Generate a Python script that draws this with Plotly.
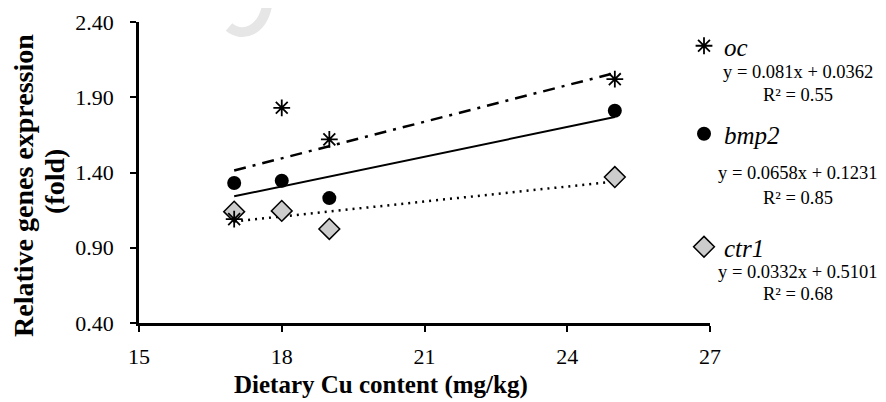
import plotly.graph_objects as go

x_cu = [17, 18, 19, 25]
oc = [1.09, 1.83, 1.62, 2.02]
bmp2 = [1.33, 1.345, 1.23, 1.81]
ctr1 = [1.14, 1.145, 1.025, 1.37]

# trendline coefficients (slope, intercept) as printed in the chart
oc_fit = (0.081, 0.0362)
bmp2_fit = (0.0658, 0.1231)
ctr1_fit = (0.0332, 0.5101)
fit_x = [17, 25]

eq_lines = [
    ("y = 0.081x + 0.0362", "R² = 0.55"),
    ("y = 0.0658x + 0.1231", "R² = 0.85"),
    ("y = 0.0332x + 0.5101", "R² = 0.68"),
]

y_ticks = [0.40, 0.90, 1.40, 1.90, 2.40]
x_ticks = [15, 18, 21, 24, 27]

FONT = "Liberation Serif"

# plot-area pixel geometry (screen coords, page has 8px body margin)
PX0, PX1, PY0, PY1 = 139, 710, 22, 323


def px(xp):
    return (xp - PX0) / (PX1 - PX0)


def py(yp):
    return 1 - (yp - PY0) / (PY1 - PY0)


fig = go.Figure()


def fit_line(fit):
    return [fit[0] * v + fit[1] for v in fit_x]


fig.add_trace(go.Scatter(x=fit_x, y=fit_line(oc_fit), mode="lines",
                         line=dict(color="black", width=2.5, dash="12px,7px,3px,7px"),
                         showlegend=False, hoverinfo="skip"))
fig.add_trace(go.Scatter(x=fit_x, y=fit_line(bmp2_fit), mode="lines",
                         line=dict(color="black", width=2),
                         showlegend=False, hoverinfo="skip"))
fig.add_trace(go.Scatter(x=fit_x, y=fit_line(ctr1_fit), mode="lines",
                         line=dict(color="black", width=2.5, dash="2px,5px"),
                         showlegend=False, hoverinfo="skip"))

fig.add_trace(go.Scatter(x=x_cu, y=ctr1, mode="markers", name="<i>ctr1</i>",
                         marker=dict(symbol="diamond", size=16, color="#cccccc",
                                     line=dict(color="black", width=1.5)),
                         legend="legend3"))
fig.add_trace(go.Scatter(x=x_cu, y=bmp2, mode="markers", name="<i>bmp2</i>",
                         marker=dict(symbol="circle", size=14, color="black"),
                         legend="legend2"))
fig.add_trace(go.Scatter(x=x_cu, y=oc, mode="markers", name="<i>oc</i>",
                         marker=dict(symbol="asterisk-open", size=14, color="black",
                                     line=dict(color="black", width=1.8)),
                         legend="legend"))

legend_common = dict(font=dict(family=FONT, size=25, color="black"),
                     bgcolor="rgba(0,0,0,0)", xanchor="left", yanchor="middle",
                     itemwidth=30)
fig.update_layout(
    legend=dict(x=px(684), y=py(46), **legend_common),
    legend2=dict(x=px(684), y=py(134), **legend_common),
    legend3=dict(x=px(684), y=py(247), **legend_common),
)

for (l1, l2), (y1, y2) in zip(eq_lines, [(72, 95), (173, 198), (272, 294)]):
    for txt, yp in [(l1, y1), (l2, y2)]:
        fig.add_annotation(text=txt, xref="paper", yref="paper",
                           x=px(798), y=py(yp), xanchor="center", yanchor="middle",
                           showarrow=False,
                           font=dict(family=FONT, size=18.5, color="black"))

# axis titles
fig.add_annotation(text="<b>Dietary Cu content (mg/kg)</b>", xref="paper", yref="paper",
                   x=px(381), y=py(385), xanchor="center", yanchor="middle",
                   showarrow=False, font=dict(family=FONT, size=25, color="black"))
fig.add_annotation(text="<b>Relative genes expression</b>", xref="paper", yref="paper",
                   x=px(23), y=py(186), xanchor="center", yanchor="middle",
                   textangle=-90, showarrow=False,
                   font=dict(family=FONT, size=28, color="black"))
fig.add_annotation(text="<b>(fold)</b>", xref="paper", yref="paper",
                   x=px(54), y=py(182), xanchor="center", yanchor="middle",
                   textangle=-90, showarrow=False,
                   font=dict(family=FONT, size=28, color="black"))

# faint watermark arc at top
fig.add_shape(type="path", xref="paper", yref="paper",
              path="M {},{} C {},{} {},{} {},{}".format(
                  px(229), py(27), px(242), py(38), px(264), py(32), px(268), py(0)),
              line=dict(color="#e6e6e6", width=10), layer="below")

fig.update_layout(
    width=886, height=402,
    margin=dict(l=PX0 - 8, r=886 - PX1 + 8, t=PY0 - 8, b=402 - PY1 + 8),
    paper_bgcolor="white", plot_bgcolor="white",
    font=dict(family=FONT, color="black"),
    xaxis=dict(range=[15, 27], tickvals=x_ticks, ticks="outside", ticklen=6,
               tickwidth=2, tickcolor="black", showline=True, linecolor="black",
               linewidth=2.5, showgrid=False, zeroline=False, ticklabelstandoff=6,
               automargin=False,
               tickfont=dict(family=FONT, size=22, color="black")),
    yaxis=dict(range=[0.40, 2.40], tickvals=y_ticks, tickformat=".2f",
               ticks="outside", ticklen=6, tickwidth=2, tickcolor="black",
               showline=True, linecolor="black", linewidth=2.5, showgrid=False,
               zeroline=False, ticklabelstandoff=12, automargin=False,
               tickfont=dict(family=FONT, size=22, color="black")),
)

fig.write_html("out.html")
